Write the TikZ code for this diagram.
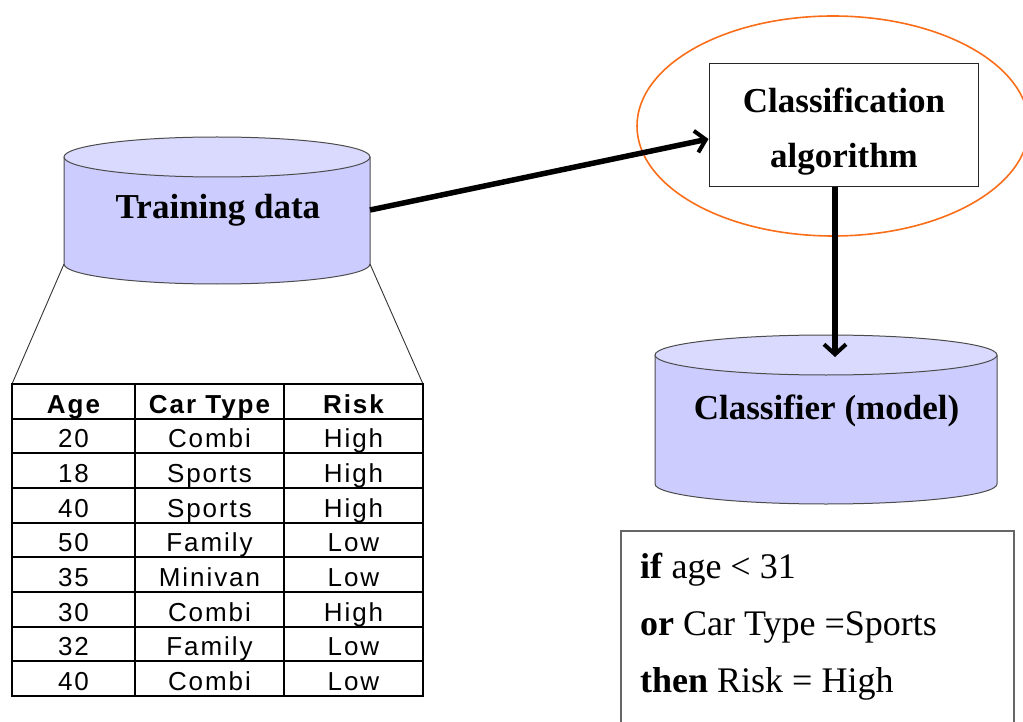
\documentclass[tikz,border=0pt]{standalone}
\usepackage{fontspec}
\setmainfont{Liberation Serif}
\newfontfamily\tabfont{Liberation Sans}[LetterSpace=7.5]
\usetikzlibrary{arrows.meta}

\definecolor{cylbody}{RGB}{204,204,255}
\definecolor{cyltop}{RGB}{218,218,255}
\definecolor{ringorange}{RGB}{250,110,25}

\tikzset{
  cylline/.style={draw=black!70, line width=1pt},
  bigarrow/.style={line width=5.5pt,
    -{Straight Barb[length=10pt,width=22pt,line width=4pt]}},
  title/.style={font=\fontsize{35}{42}\selectfont\bfseries, inner sep=0pt, anchor=base},
  cell/.style={font=\tabfont\fontsize{26}{30}\selectfont, inner sep=0pt, anchor=base},
  headcell/.style={font=\tabfont\fontsize{26}{30}\selectfont\bfseries, inner sep=0pt, anchor=base},
  ruletext/.style={font=\fontsize{36}{43}\selectfont, inner sep=0pt, anchor=base west},
  gridline/.style={line width=2pt},
  zoomline/.style={line width=0.9pt, black!80},
}

% cylinder: centre x, top centre y, bottom centre y, x radius, y radius
\newcommand\cylinderat[5]{%
  \fill[cylbody] (#1-#4,#2) -- (#1-#4,#3)
    arc[start angle=180, end angle=0, x radius=#4, y radius=#5] -- (#1+#4,#2) -- cycle;
  \draw[cylline] (#1-#4,#2) -- (#1-#4,#3)
    arc[start angle=180, end angle=0, x radius=#4, y radius=#5] -- (#1+#4,#2);
  \filldraw[cylline, fill=cyltop] (#1,#2) ellipse[x radius=#4, y radius=#5];
}

\begin{document}
\begin{tikzpicture}[x=1pt, y=-1pt]
\useasboundingbox (0,0) rectangle (1023,722);
\clip (0,0) rectangle (1023,722);

% ---- training data store ----
\cylinderat{217}{157}{264}{153}{20}
\node[title] (train) at (218,219) {Training data};
\coordinate (trainR) at (370,210);
\coordinate (trainBL) at (64,264);
\coordinate (trainBR) at (370,264);

% ---- training table ----
\coordinate (tabTL) at (12,384);
\coordinate (tabTR) at (423,384);
\draw[zoomline] (trainBL) -- (tabTL);
\draw[zoomline] (trainBR) -- (tabTR);
\draw[gridline] (12,384) rectangle (423,696);
\foreach \k in {1,...,8} {
  \draw[gridline] (12,{384+34.67*\k}) -- (423,{384+34.67*\k});
}
\draw[gridline] (135,384) -- (135,696);
\draw[gridline] (284,384) -- (284,696);

\node[headcell] (hAge)  at (73.5,413)  {Age};
\node[headcell] (hType) at (209.5,413) {Car Type};
\node[headcell] (hRisk) at (353.5,413) {Risk};
\foreach \a/\c/\r [count=\i] in {20/Combi/High, 18/Sports/High, 40/Sports/High,
    50/Family/Low, 35/Minivan/Low, 30/Combi/High, 32/Family/Low, 40/Combi/Low} {
  \node[cell] (age\i)  at (73.5,{413+34.67*\i})  {\a};
  \node[cell] (type\i) at (209.5,{413+34.67*\i}) {\c};
  \node[cell] (risk\i) at (353.5,{413+34.67*\i}) {\r};
}

% ---- classification algorithm ----
\draw[ringorange, line width=1.6pt] (833,126) ellipse[x radius=196, y radius=110];
\node[draw=black!85, line width=1pt, fill=white, minimum width=269pt, minimum height=123pt,
      inner sep=0pt] (algo) at (843.5,125.5) {};
\node[title] (algoA) at (844,113) {Classification};
\node[title] (algoB) at (844,168) {algorithm};
\coordinate (algoIn) at ([yshift=-13.5pt]algo.west);
\coordinate (algoOut) at (835,187);

% ---- classifier store ----
\cylinderat{826}{355}{484}{171}{20}
\node[title] (model) at (826.5,419) {Classifier (model)};
\coordinate (modelIn) at (835,357);

% ---- connectors ----
\draw[bigarrow] (trainR) -- (algoIn);
\draw[bigarrow] (algoOut) -- (modelIn);

% ---- learned rule ----
\node[draw=black!60, line width=1.5pt, minimum width=393pt, minimum height=220pt,
      anchor=north west, inner sep=0pt] (rulebox) at (620,530) {};
\node[ruletext] (r1) at (640,578) {\textbf{if} age < 31};
\node[ruletext] (r2) at (640,635) {\textbf{or} Car Type =Sports};
\node[ruletext] (r3) at (640,692) {\textbf{then} Risk = High};
\end{tikzpicture}
\end{document}
